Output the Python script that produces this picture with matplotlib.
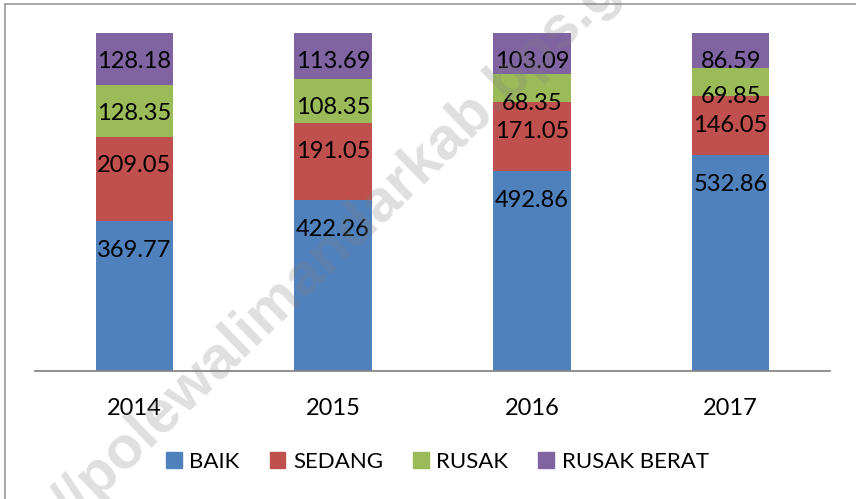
import matplotlib
matplotlib.use('Agg')
import matplotlib.pyplot as plt
import matplotlib.patches as mpatches
from matplotlib.lines import Line2D
import numpy as np

# data
years = ['2014', '2015', '2016', '2017']
series_names = ['BAIK', 'SEDANG', 'RUSAK', 'RUSAK BERAT']
baik = [369.77, 422.26, 492.86, 532.86]
sedang = [209.05, 191.05, 171.05, 146.05]
rusak = [128.35, 108.35, 68.35, 69.85]
rusak_berat = [128.18, 113.69, 103.09, 86.59]

colors = ['#4F81BD', '#C0504D', '#9BBB59', '#8064A2']

plt.rcParams['font.family'] = ['Lato', 'DejaVu Sans']

W, H = 856, 499
fig = plt.figure(figsize=(W / 100, H / 100), dpi=100, facecolor='white')

# plot area in pixels: x 35..830, y 10.6..370.7
ax = fig.add_axes([35 / W, (H - 370.7) / H, 795 / W, (370.7 - 10.6) / H])

x = np.arange(len(years)) + 0.5
bottom = np.zeros(len(years))
for name, vals, col in zip(series_names, [baik, sedang, rusak, rusak_berat], colors):
    vals = np.array(vals)
    ax.bar(x, vals, width=0.39, bottom=bottom, color=col, label=name, zorder=2)
    tops = bottom + vals
    for xi, ti, v in zip(x, tops, vals):
        # excel puts the labels about 29px below segment top here
        ax.annotate('%.2f' % v, xy=(xi, ti), xytext=(0, -21), textcoords='offset points',
                    ha='center', va='center', fontsize=17, color='black', zorder=3)
    bottom = tops

ax.set_xlim(0, 4)
ax.set_ylim(0, 890)
ax.set_xticks(x)
ax.set_xticklabels(years, fontsize=17)
ax.tick_params(axis='x', length=0, pad=20)
ax.set_yticks([])
for s in ['top', 'right', 'left']:
    ax.spines[s].set_visible(False)
ax.spines['bottom'].set_color('#888888')
ax.spines['bottom'].set_linewidth(1.3)
ax.set_facecolor('none')

# legend
handles = [mpatches.Patch(color=c, label=n) for c, n in zip(colors, series_names)]
fig.legend(handles=handles, loc='center', bbox_to_anchor=(437.5 / W, 1 - 462 / H), ncol=4,
           frameon=False, fontsize=16, handlelength=0.7, handleheight=0.7,
           handletextpad=0.35, columnspacing=1.35)

# chart border (left and top only visible)
fig.add_artist(Line2D([4.5 / W, 4.5 / W], [0, 1 - 4 / H], color='#999999', lw=1.2))
fig.add_artist(Line2D([4.5 / W, 1], [1 - 4 / H, 1 - 4 / H], color='#999999', lw=1.2))

# watermark
fig.text(62 / W, 1 - 512 / H, '//polewalimandarkab.bps.go.id', rotation=44,
         rotation_mode='anchor', ha='left', va='center', fontsize=43, fontweight='bold',
         family='Liberation Sans', color='gray', alpha=0.25, zorder=10)

fig.savefig('out.png', dpi=100, facecolor='white')
